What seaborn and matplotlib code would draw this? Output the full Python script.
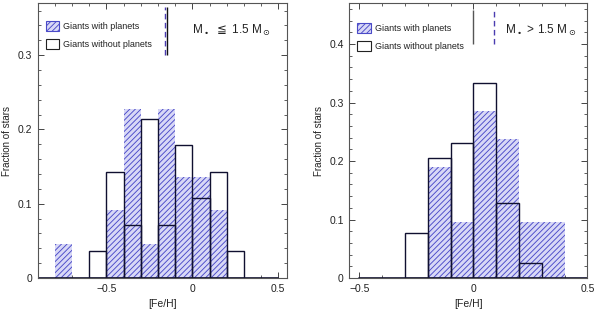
import numpy as np
import pandas as pd
import seaborn as sns
import matplotlib.pyplot as plt
from matplotlib.patches import Patch
from matplotlib.ticker import MultipleLocator, FuncFormatter

sns.set_style('ticks')
plt.rcParams['font.family'] = ['Liberation Sans', 'DejaVu Sans']
plt.rcParams['hatch.linewidth'] = 0.65

# bin left edges (width 0.1) and number of stars in each bin
low_with_left = [-0.8, -0.5, -0.4, -0.3, -0.2, -0.1, 0.0, 0.1]
low_with_n = [1, 2, 5, 1, 5, 3, 3, 2]
low_wo_left = [-0.6, -0.5, -0.4, -0.3, -0.2, -0.1, 0.0, 0.1, 0.2]
low_wo_n = [1, 4, 2, 6, 2, 5, 3, 4, 1]

high_with_left = [-0.2, -0.1, 0.0, 0.1, 0.2, 0.3]
high_with_n = [4, 2, 6, 5, 2, 2]
high_wo_left = [-0.3, -0.2, -0.1, 0.0, 0.1, 0.2]
high_wo_n = [3, 8, 9, 13, 5, 1]

# median [Fe/H] of each sample
low_median_wo, low_median_with = -0.15, -0.16
high_median_wo, high_median_with = 0.0, 0.09

panels = [
    dict(with_left=low_with_left, with_n=low_with_n, wo_left=low_wo_left, wo_n=low_wo_n,
         med_wo=low_median_wo, med_with=low_median_with, xlim=(-0.9, 0.55), ylim=(0, 0.37),
         base=(-0.9, 0.5), med_y=(0.30, 0.365), label=r'M$_\bullet$ $\leqq$ 1.5 M$_\odot$',
         label_xy=(0.0, 0.333), med_wo_color='#111111', leg_anchor=(0.032, 0.935),
         rect=[0.063, 0.106, 0.415, 0.884]),
    dict(with_left=high_with_left, with_n=high_with_n, wo_left=high_wo_left, wo_n=high_wo_n,
         med_wo=high_median_wo, med_with=high_median_with, xlim=(-0.545, 0.5), ylim=(0, 0.47),
         base=(-0.5, 0.5), med_y=(0.40, 0.458), label=r'M$_\bullet$ > 1.5 M$_\odot$',
         label_xy=(0.14, 0.424), med_wo_color='#555555', leg_anchor=(0.034, 0.927),
         rect=[0.582, 0.106, 0.397, 0.884]),
]

fig = plt.figure(figsize=(6, 3.11), dpi=100)
text_c = '#222222'
fill_c = '#d8d8f6'
hatch_c = '#4a4ac8'

for p in panels:
    ax = fig.add_axes(p['rect'])
    w = pd.DataFrame({'x': np.array(p['with_left']) + 0.05, 'n': p['with_n']})
    w['frac'] = w['n'] / w['n'].sum()
    o = pd.DataFrame({'x': np.array(p['wo_left']) + 0.05, 'n': p['wo_n']})
    o['frac'] = o['n'] / o['n'].sum()

    sns.histplot(data=w, x='x', weights='frac', binwidth=0.1, binrange=(-1.0, 0.6),
                 element='bars', fill=True, color=fill_c, alpha=1, linewidth=0, ax=ax)
    for patch in ax.patches:
        patch.set_hatch('//////')
        patch.set_edgecolor(hatch_c)
        patch.set_linewidth(0)
    sns.histplot(data=o, x='x', weights='frac', binwidth=0.1, binrange=(-1.0, 0.6),
                 element='bars', fill=False, color='#101030', linewidth=1.0, ax=ax)
    # remove empty bars
    for patch in ax.patches:
        if patch.get_height() <= 0:
            patch.set_visible(False)

    ax.plot(p['base'], [0, 0], color='#101030', lw=1.2)
    ax.vlines(p['med_wo'], *p['med_y'], color=p['med_wo_color'], lw=1.0)
    ax.vlines(p['med_with'], *p['med_y'], color='#4a3cb0', lw=1.0, linestyles=(0, (4, 2.5)))

    ax.text(*p['label_xy'], p['label'], fontsize=8.5, color=text_c, ha='left', va='center')

    handles = [Patch(facecolor=fill_c, hatch='//////', edgecolor=hatch_c, lw=0.8),
               Patch(facecolor='white', edgecolor='#222222', lw=0.8)]
    ax.legend(handles, ['Giants with planets', 'Giants without planets'], loc='upper left',
              bbox_to_anchor=p['leg_anchor'], frameon=False, fontsize=6.5,
              handlelength=1.5, handleheight=1.35, borderaxespad=0, borderpad=0,
              labelspacing=0.85, handletextpad=0.45, labelcolor=text_c)

    ax.set_xlim(*p['xlim'])
    ax.set_ylim(*p['ylim'])
    ax.xaxis.set_major_locator(MultipleLocator(0.5))
    ax.xaxis.set_minor_locator(MultipleLocator(0.1))
    ax.yaxis.set_major_locator(MultipleLocator(0.1))
    ax.yaxis.set_minor_locator(MultipleLocator(0.02))
    ax.xaxis.set_major_formatter(FuncFormatter(lambda v, _: '0' if abs(v) < 1e-9 else f'{v:.1f}'.replace('-', '\u2212')))
    ax.yaxis.set_major_formatter(FuncFormatter(lambda v, _: '0' if abs(v) < 1e-9 else f'{v:.1f}'))
    ax.tick_params(which='both', direction='in', top=True, right=True, colors='#444444',
                   labelcolor=text_c, labelsize=7.5)
    ax.tick_params(which='major', length=4, width=0.7, pad=4)
    ax.tick_params(which='minor', length=2, width=0.6)
    for s in ax.spines.values():
        s.set_color('#555555')
        s.set_linewidth(0.8)
    ax.set_xlabel('[Fe/H]', fontsize=7.5, color=text_c, labelpad=4)
    ax.set_ylabel('Fraction of stars', fontsize=7, color=text_c, labelpad=4)

fig.savefig('out.png', dpi=100)
